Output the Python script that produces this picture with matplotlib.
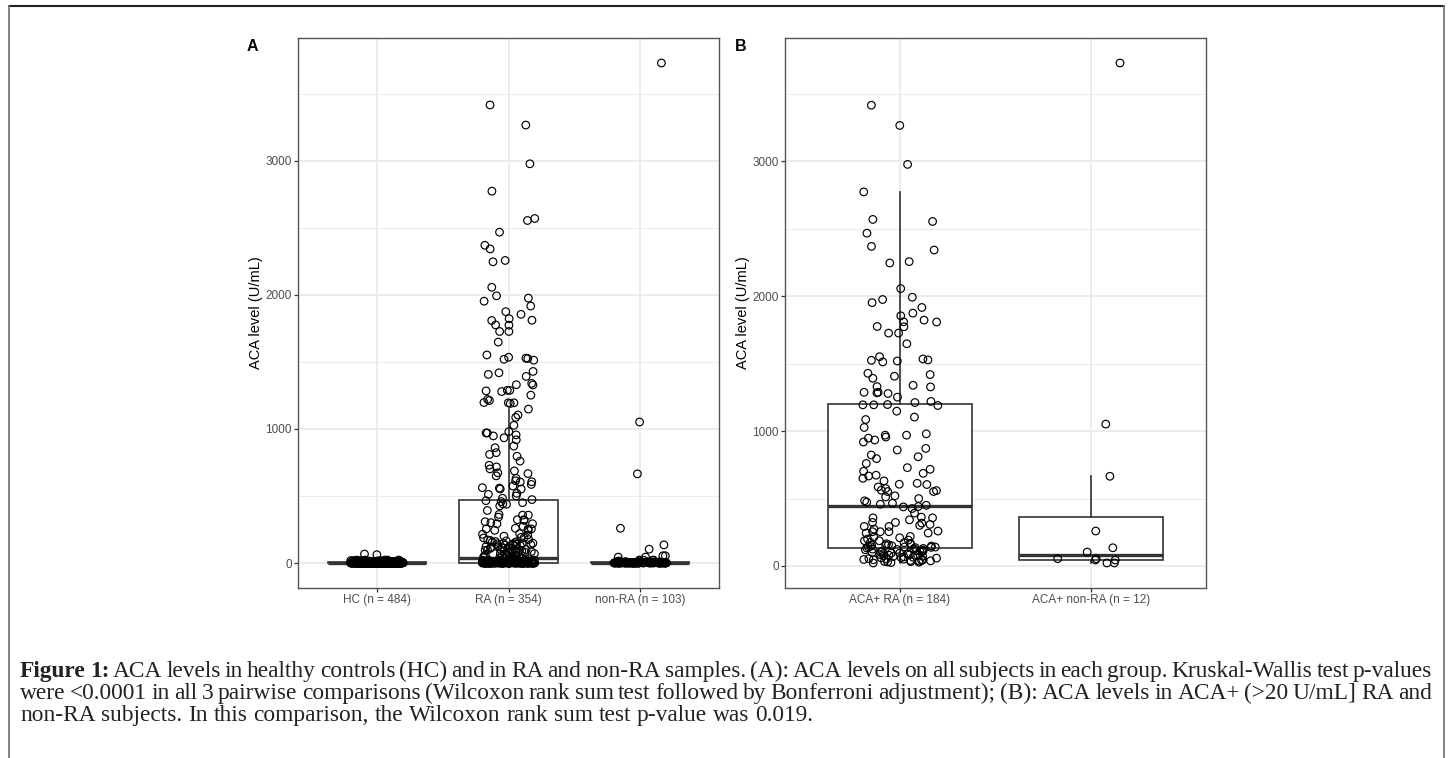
import numpy as np
import matplotlib.pyplot as plt
from matplotlib.lines import Line2D

# ---- data ----
# healthy controls: almost all near zero, a couple of higher ones
hc_levels = [0, 1, 2, 3, 4, 5, 6, 8, 10, 12, 15, 18, 22, 62, 67]
hc_counts = [150, 80, 60, 45, 35, 30, 20, 18, 15, 10, 8, 6, 5, 1, 1]

# RA subjects with ACA <= 20 U/mL
ra_low_levels = [0, 1, 2, 3, 5, 7, 10, 12, 15, 18, 20]
ra_low_counts = [60, 25, 18, 14, 12, 10, 9, 7, 6, 5, 4]

# non-RA subjects with ACA <= 20 U/mL
nonra_low_levels = [0, 1, 2, 3, 5, 8, 10, 15, 20]
nonra_low_counts = [40, 15, 10, 8, 6, 5, 3, 2, 2]

# ACA+ RA subjects (n = 184)
ra_pos = [3417, 3267, 2978, 2774, 2570, 2555, 2468, 2370, 2343, 2257, 2247, 2057,
          1993, 1976, 1953, 1917, 1875, 1855, 1823, 1811, 1809, 1776, 1774,
          1727, 1727, 1648, 1552, 1535, 1528, 1525, 1520, 1513,
          1429, 1419, 1407, 1392, 1340, 1330, 1328,
          1288, 1288, 1284, 1279, 1252, 1220, 1212, 1197, 1195, 1195,
          1190, 1148, 1104, 1086, 1027,
          980, 970, 970, 956, 948, 934, 919,
          872, 860, 823, 810, 796,
          760, 729, 717, 702, 687, 673, 667, 650, 631,
          613, 606, 604, 586, 574, 562, 559, 552, 552,
          520, 512, 500, 483, 473, 465, 458, 450,
          441, 438, 426, 392,
          362, 357, 357, 342, 323, 323, 318, 308, 301, 293, 293, 273, 259, 254,
          254, 254, 244, 244, 219, 214, 209, 200, 192, 187, 187, 175,
          172, 168, 165, 160, 158, 156, 152, 150, 148, 145, 143, 141, 140, 138,
          136, 134,
          130, 128, 125, 122, 120, 118, 115, 112, 110, 108, 105, 102, 100, 97,
          95, 92, 90, 88, 85, 82, 80, 78, 75, 72, 70, 68, 65, 62, 60, 58, 55,
          52, 50, 48, 46, 44, 42, 40, 38, 36, 34, 32, 30, 28, 25, 22]

# ACA+ non-RA subjects (n = 12)
nonra_pos = [3730, 1052, 665, 259, 135, 103, 54, 54, 44, 44, 22, 22]

labels_a = ['HC (n = 484)', 'RA (n = 354)', 'non-RA (n = 103)']
labels_b = ['ACA+ RA (n = 184)', 'ACA+ non-RA (n = 12)']

caption = [
    'Figure 1: ACA levels in healthy controls (HC) and in RA and non-RA samples. '
    '(A): ACA levels on all subjects in each group. Kruskal-Wallis test p-values',
    'were <0.0001 in all 3 pairwise comparisons (Wilcoxon rank sum test followed '
    'by Bonferroni adjustment); (B): ACA levels in ACA+ (>20 U/mL] RA and',
    'non-RA subjects. In this comparison, the Wilcoxon rank sum test p-value was 0.019.',
]

hc = np.repeat(hc_levels, hc_counts)
ra = np.concatenate([np.repeat(ra_low_levels, ra_low_counts), ra_pos])
nonra = np.concatenate([np.repeat(nonra_low_levels, nonra_low_counts), nonra_pos])

plt.rcParams['font.family'] = ['Liberation Sans', 'DejaVu Sans']

W, H = 1452, 758
fig = plt.figure(figsize=(W / 100, H / 100), dpi=100)

dark = '#333333'


def panel(ax, groups, labels, seed):
    n = len(groups)
    pos = np.arange(1, n + 1)
    ax.boxplot(groups, positions=pos, widths=0.75, whis=1.5, showfliers=False,
               showcaps=False, patch_artist=True,
               boxprops=dict(facecolor='white', edgecolor=dark, linewidth=1.2),
               whiskerprops=dict(color=dark, linewidth=1.2),
               medianprops=dict(color=dark, linewidth=2.4), zorder=2)
    # horizontal jitter like geom_jitter(width = 0.2)
    rng = np.random.default_rng(seed)
    for p, vals in zip(pos, groups):
        xj = p + rng.uniform(-0.2, 0.2, len(vals))
        ax.scatter(xj, vals, s=30, facecolors='none', edgecolors='black',
                   linewidths=0.85, zorder=3)
    allv = np.concatenate(groups)
    pad = 0.05 * (allv.max() - allv.min())
    ax.set_ylim(allv.min() - pad, allv.max() + pad)
    ax.set_xlim(0.4, n + 0.6)
    ax.set_xticks(pos)
    ax.set_xticklabels(labels)
    ax.set_yticks([0, 1000, 2000, 3000])
    ax.set_yticks([500, 1500, 2500, 3500], minor=True)
    ax.grid(which='major', color='#EBEBEB', linewidth=1.3)
    ax.grid(which='minor', axis='y', color='#EBEBEB', linewidth=0.7)
    ax.set_axisbelow(True)
    ax.tick_params(which='major', length=2.9, width=0.9, color=dark,
                   labelsize=8.5, labelcolor='#4D4D4D', pad=1.5)
    ax.tick_params(which='minor', length=0)
    for s in ax.spines.values():
        s.set_color('#555555')
        s.set_linewidth(1)
    ax.set_ylabel('ACA level (U/mL)', fontsize=10.5, color='black')
    ax.yaxis.set_label_coords(-0.083, 0.5)


axA = fig.add_axes([298 / W, 1 - 588 / H, 421 / W, 550 / H])
axB = fig.add_axes([785 / W, 1 - 588 / H, 421 / W, 550 / H])
panel(axA, [hc, ra, nonra], labels_a, 3)
panel(axB, [np.array(ra_pos), np.array(nonra_pos)], labels_b, 11)

fig.text(247 / W, 1 - 51 / H, 'A', fontsize=11.5, fontweight='bold', va='baseline')
fig.text(735 / W, 1 - 51 / H, 'B', fontsize=11.5, fontweight='bold', va='baseline')

# outer frame of the figure box
fig.add_artist(Line2D([9 / W, 1444 / W], [1 - 6 / H, 1 - 6 / H], color='#222222', lw=1.5))
fig.add_artist(Line2D([9 / W, 9 / W], [0, 1 - 6 / H], color='#777777', lw=1.3))
fig.add_artist(Line2D([1444 / W, 1444 / W], [0, 1 - 6 / H], color='#777777', lw=1.3))

# caption, justified like the journal layout
renderer = fig.canvas.get_renderer()
cap_size = 16.8
cap_font = ['Liberation Serif', 'DejaVu Serif']
x0, x1 = 20, 1432
baselines = [677, 699, 721]
space = cap_size * 100 / 72 * 0.25
for li, (line, yb) in enumerate(zip(caption, baselines)):
    words = line.split(' ')
    texts = []
    for wi, w in enumerate(words):
        bold = li == 0 and wi < 2
        t = fig.text(0, 1 - yb / H, w, fontsize=cap_size, family=cap_font,
                     fontweight='bold' if bold else 'normal', va='baseline', color='#222222')
        texts.append(t)
    widths = [t.get_window_extent(renderer).width for t in texts]
    gap = space
    if li < len(caption) - 1:
        gap = max((x1 - x0 - sum(widths)) / (len(words) - 1), 0.6 * space)
    x = x0
    for t, w in zip(texts, widths):
        t.set_x(x / W)
        x += w + gap

fig.savefig('out.png', dpi=100)
